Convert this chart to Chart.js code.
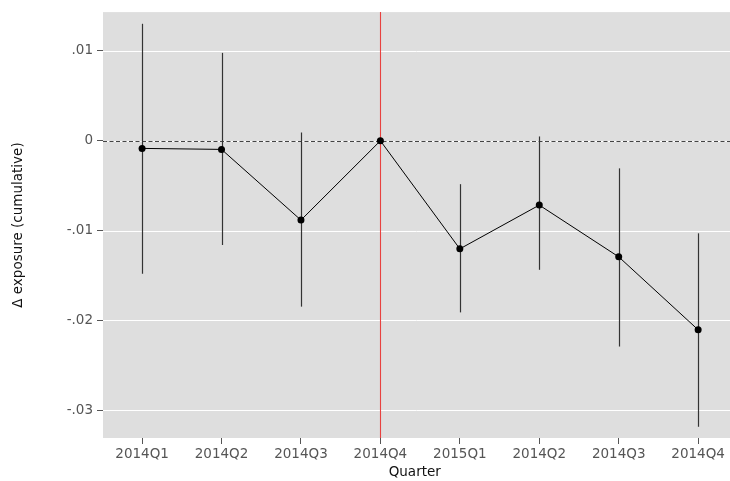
<!DOCTYPE html>
<html>
<head>
<meta charset="utf-8">
<script src="https://cdn.jsdelivr.net/npm/chart.js@4/dist/chart.umd.min.js"></script>
<style>
  html, body { margin: 0; padding: 0; background: #ffffff; }
  #wrap { width: 730px; height: 481px; position: relative; }
</style>
</head>
<body>
<div id="wrap"><canvas id="chart"></canvas></div>
<script>
// Quarters along the x axis
const quarters = ['2014Q1', '2014Q2', '2014Q3', '2014Q4', '2015Q1', '2014Q2', '2014Q3', '2014Q4'];
// Cumulative change in exposure and its confidence interval
const estimate = [-0.00085, -0.00096, -0.00883, 0.0, -0.01203, -0.00716, -0.01292, -0.02104];
const ciLow    = [-0.0148, -0.0116, -0.01846, 0.0, -0.0191, -0.01436, -0.0229, -0.03183];
const ciHigh   = [0.01302, 0.00978, 0.00092, 0.0, -0.00483, 0.00048, -0.00307, -0.0103];
// Y axis tick values and their labels
const yTickValues = [-0.03, -0.02, -0.01, 0, 0.01];
const yTickLabels = ['-.03', '-.02', '-.01', '0', '.01'];
// Reference quarter (index in quarters) marked with a vertical line
const refIndex = 3;

const FONT = "'DejaVu Sans', sans-serif";

// Grey panel, white grid lines, zero line, reference line and interval bars.
// The panel runs on to the right edge of the canvas.
const panelPlugin = {
  id: 'panel',
  beforeDatasetsDraw(chart) {
    const { ctx, chartArea: a, scales } = chart;
    const x = scales.x, y = scales.y;
    const right = chart.width;
    ctx.save();
    ctx.fillStyle = '#dedede';
    ctx.fillRect(a.left, a.top, right - a.left, a.bottom - a.top);
    ctx.beginPath();
    ctx.rect(a.left, a.top, right - a.left, a.bottom - a.top);
    ctx.clip();
    // horizontal grid lines
    ctx.strokeStyle = '#ffffff';
    ctx.lineWidth = 1;
    yTickValues.forEach(v => {
      const yp = Math.round(y.getPixelForValue(v)) + 0.5;
      ctx.beginPath();
      ctx.moveTo(a.left, yp);
      ctx.lineTo(right, yp);
      ctx.stroke();
    });
    // zero line
    const y0 = Math.round(y.getPixelForValue(0)) + 0.5;
    ctx.strokeStyle = '#444444';
    ctx.lineWidth = 1.1;
    ctx.setLineDash([4, 2.5]);
    ctx.beginPath();
    ctx.moveTo(a.left, y0);
    ctx.lineTo(right, y0);
    ctx.stroke();
    ctx.setLineDash([]);
    // reference quarter
    const xr = Math.round(x.getPixelForValue(refIndex)) + 0.5;
    ctx.strokeStyle = '#e8413f';
    ctx.lineWidth = 1.1;
    ctx.beginPath();
    ctx.moveTo(xr, a.top);
    ctx.lineTo(xr, a.bottom);
    ctx.stroke();
    // confidence intervals
    ctx.strokeStyle = '#333333';
    ctx.lineWidth = 1.2;
    for (let i = 0; i < quarters.length; i++) {
      if (ciLow[i] === ciHigh[i]) continue;
      const xp = Math.round(x.getPixelForValue(i)) + 0.5;
      ctx.beginPath();
      ctx.moveTo(xp, y.getPixelForValue(ciHigh[i]));
      ctx.lineTo(xp, y.getPixelForValue(ciLow[i]));
      ctx.stroke();
    }
    ctx.restore();
  }
};

new Chart(document.getElementById('chart'), {
  type: 'line',
  data: {
    datasets: [{
      data: estimate.map((v, i) => ({ x: i, y: v })),
      borderColor: '#000000',
      borderWidth: 1,
      backgroundColor: '#000000',
      pointRadius: 3.5,
      pointHoverRadius: 3.5,
      pointBorderWidth: 0,
      tension: 0,
      clip: false
    }]
  },
  options: {
    responsive: true,
    maintainAspectRatio: false,
    animation: false,
    events: [],
    layout: { padding: { top: 10, right: 0, bottom: 0, left: 0 } },
    plugins: { legend: { display: false }, tooltip: { enabled: false } },
    scales: {
      x: {
        type: 'linear',
        min: -0.492,
        max: 7.357,
        afterBuildTicks(scale) { scale.ticks = quarters.map((q, i) => ({ value: i })); },
        afterFit(scale) {
          scale.height = 43;
          scale.paddingLeft = 0;
          scale.paddingRight = 0;
        },
        ticks: {
          callback: (v) => quarters[v],
          color: '#555555',
          font: { family: FONT, size: 13.5 },
          padding: 2,
          maxRotation: 0,
          autoSkip: false
        },
        grid: { drawOnChartArea: false, tickColor: '#555555', tickLength: 6, lineWidth: 1 },
        border: { display: false },
        title: {
          display: true,
          text: 'Quarter',
          color: '#111111',
          font: { family: FONT, size: 13.5 },
          padding: { top: 0, bottom: 0 }
        }
      },
      y: {
        type: 'linear',
        min: -0.03308,
        max: 0.01432,
        afterBuildTicks(scale) { scale.ticks = yTickValues.map(v => ({ value: v })); },
        afterFit(scale) { scale.width = 103; },
        ticks: {
          callback: (v) => yTickLabels[yTickValues.indexOf(v)],
          color: '#555555',
          font: { family: FONT, size: 13.5 },
          padding: 4
        },
        grid: { drawOnChartArea: false, tickColor: '#555555', tickLength: 6, lineWidth: 1 },
        border: { display: false },
        title: {
          display: true,
          text: 'Δ exposure (cumulative)',
          color: '#111111',
          font: { family: FONT, size: 13.5 },
          padding: { top: 10, bottom: 10 }
        }
      }
    }
  },
  plugins: [panelPlugin]
});
</script>
</body>
</html>
